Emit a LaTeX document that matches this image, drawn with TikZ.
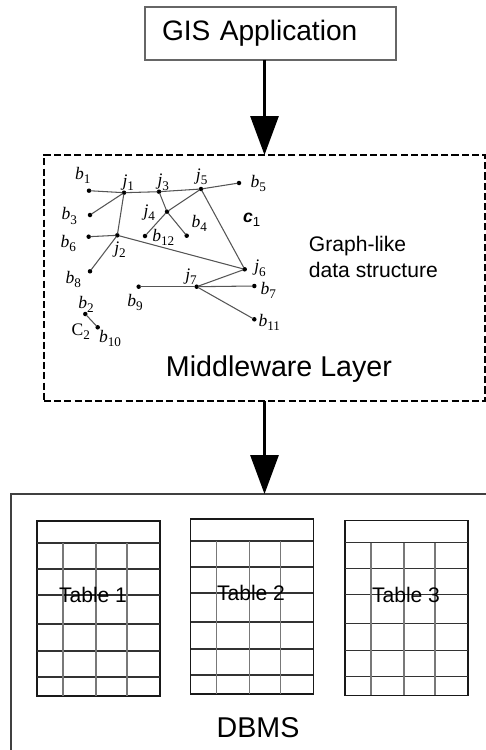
\documentclass[tikz,border=0pt]{standalone}
\usepackage{fontspec}
\setmainfont{Liberation Sans}
\newfontfamily\seriffont{Liberation Serif}
\usepackage{tikz}
\usetikzlibrary{positioning,calc}
\usetikzlibrary{arrows.meta}
\definecolor{EdgeGray}{RGB}{85,85,85}
\definecolor{GridGray}{RGB}{120,120,120}
\tikzset{
  layerbox/.style={draw=black!75,line width=0.8pt,outer sep=0pt},
  appbox/.style={draw=black!60,line width=0.7pt,outer sep=0pt,inner xsep=0.34cm,
    text width=4.34cm,minimum height=1.06cm,align=left,font=\fontsize{16}{18}\selectfont},
  midbox/.style={draw=black,line width=1.1pt,dash pattern=on 4pt off 1.8pt,outer sep=0pt,
    minimum width=8.82cm,minimum height=4.92cm},
  flow/.style={line width=1.7pt,-{Triangle[length=0.78cm,width=0.56cm]}},
  big/.style={font=\fontsize{16.3}{18}\selectfont},
  mid/.style={font=\fontsize{12}{14.7}\selectfont,align=left},
}
\tikzset{dot/.style={circle,fill=black,inner sep=0pt,minimum size=0.09cm},
  edge/.style={draw=EdgeGray,line width=0.6pt,shorten <=-0.5pt,shorten >=-0.5pt},
  lab/.style={inner sep=0pt,font=\fontsize{10}{10}\selectfont},
  tbl/.style={draw=black!90,line width=0.9pt,outer sep=0pt,minimum width=2.46cm,minimum height=3.5cm},
  rowline/.style={draw=black!80,line width=0.6pt},
  colline/.style={draw=GridGray,line width=0.6pt}}
\newcommand{\gl}[2]{{\seriffont\itshape #1}\raisebox{-0.45ex}{\seriffont\fontsize{7.5}{7.5}\selectfont #2}}
\newcommand{\tablegrid}[1]{%
  \foreach \r in {22,48,74,103,130,156}
    \draw[rowline] ($(#1.north west)+(0,\r)$) -- ($(#1.north east)+(0,\r)$);
  \foreach \c in {26,59,90}
    \draw[colline] ($(#1.north west)+(\c,22)$) -- ($(#1.south west)+(\c,0)$);
}

\begin{document}
\begin{tikzpicture}[x=0.02cm,y=-0.02cm]
\useasboundingbox (0,0) rectangle (486,750);
\clip (0,0) rectangle (486,750);
% layers
\node[appbox] (gis) at (270.5,33.5) {GIS Application};
\node[midbox] (mw) at (264.5,278) {};
\node[big] (mwlab) at (279,369) {Middleware Layer};
\node[layerbox,minimum width=9.8cm,minimum height=5.7cm] (dbms) at (256,636.5) {};
\node[big] (dbmslab) at (258,728) {DBMS};
\draw[flow] (gis.south -| mw.north) -- (mw.north);
\draw[flow] (mw.south) -- (mw.south |- dbms.north);
% graph
\node[dot] (b1) at (89,190.7) {};
\node[dot] (j1) at (124,192.7) {};
\node[dot] (j3) at (159,191.7) {};
\node[dot] (j5) at (201,189) {};
\node[dot] (b5) at (239,183) {};
\node[dot] (b3) at (90,215) {};
\node[dot] (j4) at (167,211.7) {};
\node[dot] (b12) at (145,236) {};
\node[dot] (b4) at (186.7,235.7) {};
\node[dot] (b6) at (88.7,236.7) {};
\node[dot] (j2) at (117.3,235.3) {};
\node[dot] (b8) at (90,271.3) {};
\node[dot] (j6) at (244.7,269.3) {};
\node[dot] (j7) at (196.7,286.7) {};
\node[dot] (b9) at (138.7,286.7) {};
\node[dot] (b7) at (254.3,286) {};
\node[dot] (b11) at (254.3,319.3) {};
\node[dot] (b2) at (85.3,314) {};
\node[dot] (b10) at (97.7,327.3) {};
\draw[edge] (b1)--(j1);
\draw[edge] (j1)--(j3);
\draw[edge] (j3)--(j5);
\draw[edge] (j5)--(b5);
\draw[edge] (j1)--(b3);
\draw[edge] (j1)--(j2);
\draw[edge] (j3)--(j4);
\draw[edge] (j5)--(j4);
\draw[edge] (j4)--(b12);
\draw[edge] (j4)--(b4);
\draw[edge] (j5)--(j6);
\draw[edge] (b6)--(j2);
\draw[edge] (j2)--(b8);
\draw[edge] (j2)--(j6);
\draw[edge] (j6)--(j7);
\draw[edge] (b9)--(j7);
\draw[edge] (j7)--(b7);
\draw[edge] (j7)--(b11);
\draw[edge] (b2)--(b10);
\node[lab] (lb1) at (82.7,175) {\gl{b}{1}};
\node[lab] (lj1) at (128.3,182.3) {\gl{j}{1}};
\node[lab] (lj3) at (163.3,182.3) {\gl{j}{3}};
\node[lab] (lj5) at (201.7,176.7) {\gl{j}{5}};
\node[lab] (lb5) at (258.3,183.3) {\gl{b}{5}};
\node[lab] (lb3) at (69.3,216) {\gl{b}{3}};
\node[lab] (lj4) at (149.3,212.7) {\gl{j}{4}};
\node[lab] (lb4) at (199.3,223.3) {\gl{b}{4}};
\node[lab] (lc1) at (251.7,220) {{\bfseries\itshape c}\raisebox{-0.45ex}{\fontsize{7.5}{7.5}\selectfont 1}};
\node[lab] (lb12) at (163.3,237.7) {\gl{b}{12}};
\node[lab] (lb6) at (68.3,243.3) {\gl{b}{6}};
\node[lab] (lj2) at (120,250) {\gl{j}{2}};
\node[lab] (lb8) at (73.3,279.3) {\gl{b}{8}};
\node[lab] (lj6) at (260,268.3) {\gl{j}{6}};
\node[lab] (lj7) at (191,276.7) {\gl{j}{7}};
\node[lab] (lb9) at (135,302.7) {\gl{b}{9}};
\node[lab] (lb7) at (268.3,290) {\gl{b}{7}};
\node[lab] (lb11) at (269.3,322.7) {\gl{b}{11}};
\node[lab] (lb2) at (86,304) {\gl{b}{2}};
\node[lab] (lc2) at (80.7,331.7) {{\seriffont C}\raisebox{-0.45ex}{\seriffont\fontsize{7.5}{7.5}\selectfont 2}};
\node[lab] (lb10) at (110,338.3) {\gl{b}{10}};
\node[mid,anchor=west] (note) at (302.7,257) {Graph-like\\data structure};
% tables
\node[tbl] (tab1) at (98.5,608.5) {};
\node[tbl] (tab2) at (252,606.5) {};
\node[tbl] (tab3) at (406.5,608) {};
\tablegrid{tab1}
\tablegrid{tab2}
\tablegrid{tab3}
\node[font=\fontsize{12}{14}\selectfont] (t1lab) at (93,595) {Table 1};
\node[font=\fontsize{12}{14}\selectfont] (t2lab) at (251,593) {Table 2};
\node[font=\fontsize{12}{14}\selectfont] (t3lab) at (406,595) {Table 3};
\end{tikzpicture}
\end{document}
